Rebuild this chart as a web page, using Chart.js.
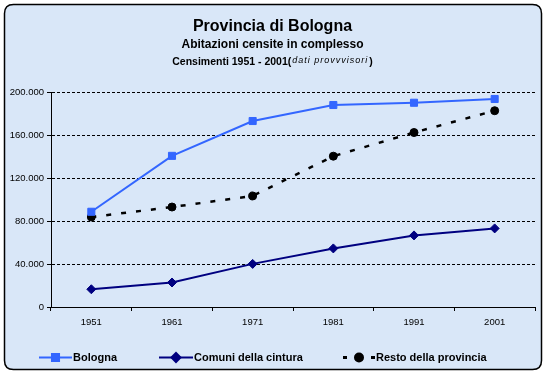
<!DOCTYPE html>
<html>
<head>
<meta charset="utf-8">
<script src="https://cdn.jsdelivr.net/npm/chart.js@4"></script>
<style>
html,body{margin:0;padding:0;background:#ffffff;}
#wrap{width:547px;height:375px;position:relative;}
</style>
</head>
<body>
<div id="wrap"><canvas id="c" width="547" height="375"></canvas></div>
<script>
// ---- data ----
const years = ['1951', '1961', '1971', '1981', '1991', '2001'];
const bologna = [88600, 140600, 173000, 187900, 190000, 193500];
const comuni = [16500, 22800, 40100, 54500, 66600, 73100];
const resto = [83700, 93000, 103300, 140300, 162300, 182600];
const seriesNames = ['Bologna', 'Comuni della cintura', 'Resto della provincia'];
const yTicks = [0, 40000, 80000, 120000, 160000, 200000];
const titleMain = 'Provincia di Bologna';
const titleSub = 'Abitazioni censite in complesso';
const titleNote = 'Censimenti 1951 - 2001(';
const titleNoteItalic = 'dati provvvisori';
const titleNoteEnd = ')';

const fmt = v => String(v).replace(/\B(?=(\d{3})+(?!\d))/g, '.');

const FONT = '"Liberation Sans", Arial, sans-serif';

const framePlugin = {
  id: 'frame',
  beforeDraw(chart) {
    const ctx = chart.ctx;
    ctx.save();
    const x = 4.5, y = 4.5, w = 537, h = 365, r = 9;
    ctx.beginPath();
    ctx.moveTo(x + r, y);
    ctx.lineTo(x + w - r, y);
    ctx.quadraticCurveTo(x + w, y, x + w, y + r);
    ctx.lineTo(x + w, y + h - r);
    ctx.quadraticCurveTo(x + w, y + h, x + w - r, y + h);
    ctx.lineTo(x + r, y + h);
    ctx.quadraticCurveTo(x, y + h, x, y + h - r);
    ctx.lineTo(x, y + r);
    ctx.quadraticCurveTo(x, y, x + r, y);
    ctx.closePath();
    ctx.fillStyle = '#d9e7f8';
    ctx.fill();
    ctx.lineWidth = 1.5;
    ctx.strokeStyle = '#000000';
    ctx.stroke();
    ctx.restore();
  }
};

const axisLinesPlugin = {
  id: 'axisLines',
  beforeDatasetsDraw(chart) {
    const {ctx, chartArea: a} = chart;
    ctx.save();
    ctx.strokeStyle = '#000000';
    ctx.lineWidth = 1;
    ctx.setLineDash([]);
    ctx.beginPath();
    const lx = Math.round(a.left) + 0.5;
    const by = Math.round(a.bottom) + 0.5;
    ctx.moveTo(lx, Math.round(a.top));
    ctx.lineTo(lx, by);
    ctx.lineTo(Math.round(a.right), by);
    ctx.stroke();
    ctx.restore();
  }
};

const headerPlugin = {
  id: 'header',
  afterDraw(chart) {
    const ctx = chart.ctx;
    const cx = 272.5;
    ctx.save();
    ctx.fillStyle = '#000000';
    ctx.textBaseline = 'alphabetic';
    ctx.textAlign = 'center';
    ctx.font = 'bold 16px ' + FONT;
    ctx.fillText(titleMain, cx, 30.5);
    ctx.font = 'bold 12px ' + FONT;
    ctx.fillText(titleSub, cx, 47.5);
    // third line, mixed styles
    ctx.textAlign = 'left';
    const f1 = 'bold 10.5px ' + FONT;
    const f2 = 'italic 9px ' + FONT;
    ctx.font = f1;
    const w1 = ctx.measureText(titleNote).width;
    const w3 = ctx.measureText(titleNoteEnd).width;
    ctx.font = f2;
    ctx.letterSpacing = '1px';
    const w2 = ctx.measureText(titleNoteItalic).width;
    ctx.letterSpacing = '0px';
    let x = cx - (w1 + w2 + w3 + 2) / 2;
    ctx.font = f1;
    ctx.fillText(titleNote, x, 64.5);
    x += w1 + 1;
    ctx.font = f2;
    ctx.letterSpacing = '1px';
    ctx.fillText(titleNoteItalic, x, 62.5);
    ctx.letterSpacing = '0px';
    x += w2 + 1;
    ctx.font = f1;
    ctx.fillText(titleNoteEnd, x, 64.5);
    ctx.restore();
  }
};

const legendPlugin = {
  id: 'customLegend',
  afterDraw(chart) {
    const ctx = chart.ctx;
    const ds = chart.data.datasets;
    const y = 357.5;
    const items = [
      {x0: 39, x1: 72, tx: 73},
      {x0: 159, x1: 193, tx: 194},
      {x0: 343, x1: 375, tx: 376}
    ];
    ctx.save();
    items.forEach((it, i) => {
      const d = ds[i];
      ctx.strokeStyle = d.borderColor;
      ctx.fillStyle = d.pointBackgroundColor;
      if (i === 2) {
        ctx.lineWidth = 3;
        ctx.setLineDash([4, 24]);
      } else {
        ctx.lineWidth = d.borderWidth;
        ctx.setLineDash([]);
      }
      ctx.beginPath();
      ctx.moveTo(it.x0, y);
      ctx.lineTo(it.x1, y);
      ctx.stroke();
      ctx.setLineDash([]);
      const mx = (it.x0 + it.x1) / 2;
      Chart.helpers.drawPoint(ctx, {
        pointStyle: d.pointStyle,
        radius: i === 2 ? 3.5 : d.pointRadius,
        borderWidth: 1
      }, mx, y);
      ctx.fillStyle = '#000000';
      ctx.font = 'bold 11px ' + FONT;
      ctx.textBaseline = 'middle';
      ctx.textAlign = 'left';
      ctx.fillText(d.label, it.tx, y);
    });
    ctx.restore();
  }
};

new Chart(document.getElementById('c'), {
  type: 'line',
  data: {
    labels: years,
    datasets: [
      {
        label: seriesNames[0],
        data: bologna,
        borderColor: '#3366ff',
        backgroundColor: '#3366ff',
        pointBackgroundColor: '#3366ff',
        pointBorderColor: '#3366ff',
        borderWidth: 2,
        pointStyle: 'rect',
        pointRadius: 5,
        pointBorderWidth: 1,
        tension: 0
      },
      {
        label: seriesNames[1],
        data: comuni,
        borderColor: '#000080',
        backgroundColor: '#000080',
        pointBackgroundColor: '#000080',
        pointBorderColor: '#000080',
        borderWidth: 2,
        pointStyle: 'rectRot',
        pointRadius: 4.5,
        pointBorderWidth: 1,
        tension: 0
      },
      {
        label: seriesNames[2],
        data: resto,
        borderColor: '#000000',
        backgroundColor: '#000000',
        pointBackgroundColor: '#000000',
        pointBorderColor: '#000000',
        borderWidth: 2.5,
        borderDash: [5, 10],
        pointStyle: 'circle',
        pointRadius: 4,
        pointBorderWidth: 1,
        tension: 0
      }
    ]
  },
  options: {
    responsive: false,
    animation: false,
    devicePixelRatio: 1,
    layout: {padding: {top: 92, left: 0, right: 12, bottom: 38}},
    plugins: {
      legend: {display: false},
      title: {display: false},
      tooltip: {enabled: false}
    },
    scales: {
      x: {
        type: 'category',
        offset: true,
        afterFit(scale) { scale.height = 30; },
        grid: {
          display: true,
          drawOnChartArea: false,
          drawTicks: true,
          tickLength: 4,
          offset: true,
          color: '#000000',
          tickColor: '#000000'
        },
        border: {display: true, color: '#000000', width: 1},
        ticks: {
          color: '#000000',
          padding: 6,
          maxRotation: 0,
          font: {family: FONT, size: 9.5}
        }
      },
      y: {
        min: 0,
        max: 200000,
        afterFit(scale) { scale.width = 51; },
        afterBuildTicks(scale) { scale.ticks = yTicks.map(v => ({value: v})); },
        grid: {
          color: '#000000',
          lineWidth: 1,
          tickLength: 4,
          tickColor: '#000000'
        },
        border: {display: true, color: '#000000', width: 1, dash: [3, 2]},
        ticks: {
          color: '#000000',
          padding: 3,
          font: {family: FONT, size: 9.5},
          callback: v => fmt(v)
        }
      }
    }
  },
  plugins: [framePlugin, axisLinesPlugin, headerPlugin, legendPlugin]
});
</script>
</body>
</html>
